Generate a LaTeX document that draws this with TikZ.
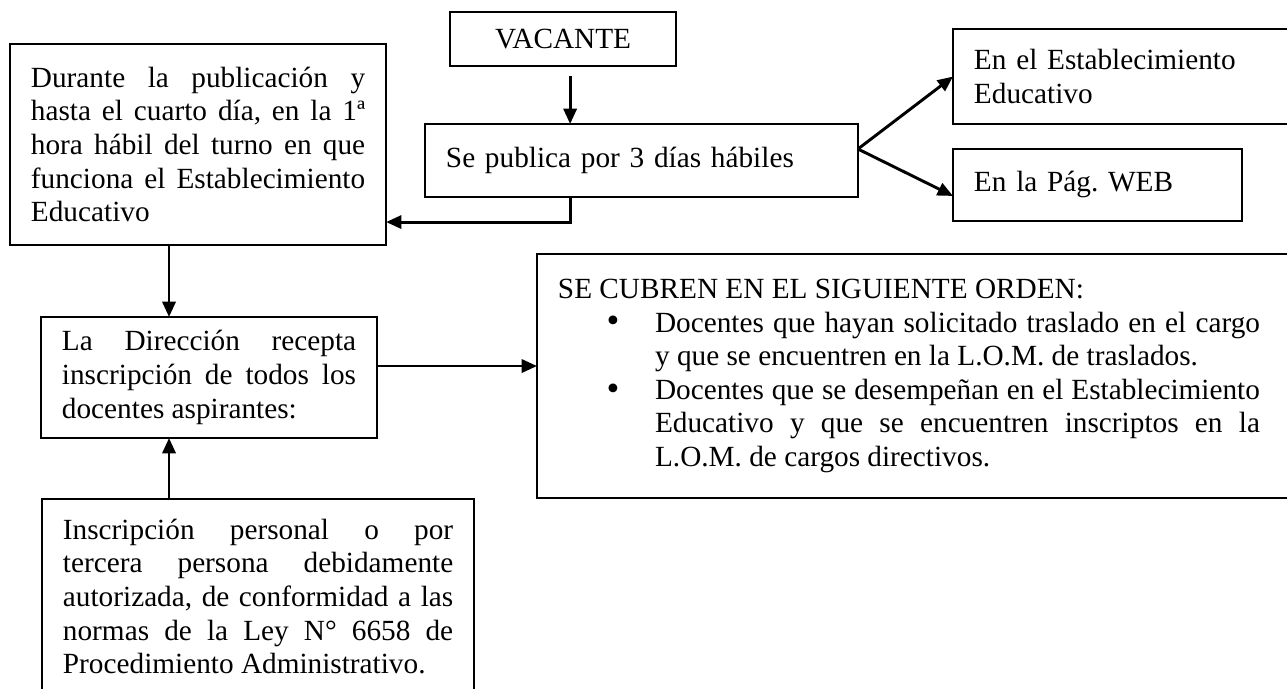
\documentclass[tikz,border=0pt]{standalone}
\usepackage{fontspec}
\setmainfont{Liberation Serif}
\usepackage{tikz}
\usetikzlibrary{
    arrows.meta
}
\tikzset{
    every picture/.style = {
        > = {Triangle[length = 6.3pt, width = 5.4pt]},
        x = 0.41pt,
        y = -0.41pt
    },
    box/.style = {
        draw,
        line width = 0.8pt,
        anchor = north west,
        inner xsep = 8.6pt,
        inner ysep = 4pt,
        outer sep = 0pt,
        align = justify,
        font = {\fontsize{12pt}{13.8pt}\selectfont},
        execute at begin node = {\hyphenpenalty=10000\tolerance=9999\parindent=0pt\frenchspacing}
    },
    flow/.style = {
        ->,
        line width = 1.2pt
    }
}
\newcommand{\punto}{\noindent\llap{\raisebox{-0.3pt}{\fontsize{15pt}{15pt}\selectfont\textbullet}\hspace{14.6pt}}}

\begin{document}
\begin{tikzpicture}
    \useasboundingbox (0,0) rectangle (1287,688);

    \node[box, text width = 75.5pt, minimum height = 22.1pt, align = center] (vacante) at (450,12) {VACANTE};
    \node[box, text width = 160.3pt, minimum height = 29.9pt, align = left] (publica) at (425,124) {Se publica por 3 días hábiles};
    \node[box, text width = 140pt, minimum height = 39pt, align = left] (estab) at (953,29) {En el Establecimiento\\Educativo};
    \node[box, text width = 101.3pt, minimum height = 29.5pt, align = left] (web) at (953,149) {En la Pág. WEB};

    \node[box, text width = 137pt, minimum height = 82.4pt] (durante) at (10,44) {Durante la publicación y\linebreak hasta el cuarto día, en la 1ª\linebreak hora hábil del turno en que\linebreak funciona el Establecimiento\linebreak Educativo};
    \node[box, text width = 120.6pt, minimum height = 49.6pt] (direccion) at (41,317) {La Dirección recepta\linebreak inscripción de todos los\linebreak docentes aspirantes:};
    \node[box, text width = 160pt, minimum height = 80pt] (inscripcion) at (42,499) {Inscripción personal o por\linebreak tercera persona debidamente\linebreak autorizada, de conformidad a las\linebreak normas de la Ley N° 6658 de\linebreak Procedimiento Administrativo.};

    \node[box, text width = 300pt, minimum height = 100pt] (orden) at (537,254) {SE CUBREN EN EL SIGUIENTE ORDEN:\par
        {\leftskip=39.8pt \rightskip=12.2pt
        \punto Docentes que hayan solicitado traslado en el cargo\linebreak y que se encuentren en la L.O.M. de traslados.\par
        \punto Docentes que se desempeñan en el Establecimiento\linebreak Educativo y que se encuentren inscriptos en la\linebreak L.O.M. de cargos directivos.\par}};

    % vacante -> publicacion -> destinos
    \draw[flow, shorten <= 4pt] ([xshift = 2.9pt]vacante.south) -- ([xshift = 2.9pt]vacante.south |- publica.north);
    \draw[flow] ([yshift = 4.7pt]publica.east) -- (estab.west);
    \draw[flow] ([yshift = 4.7pt]publica.east) -- ([yshift = -4.5pt]web.west);
    \draw[flow] ([xshift = 2.9pt]vacante.south |- publica.south) |- ([yshift = -31.8pt]durante.east);

    % inscripcion
    \draw[flow] ([xshift = -11.9pt]durante.south) -- ([xshift = -11.9pt]durante.south |- direccion.north);
    \draw[flow] ([xshift = -11.9pt]durante.south |- inscripcion.north) -- ([xshift = -11.9pt]durante.south |- direccion.south);
    \draw[flow] ([yshift = 4.7pt]direccion.east) -- ([yshift = 4.7pt]direccion.east -| orden.west);
\end{tikzpicture}
\end{document}
